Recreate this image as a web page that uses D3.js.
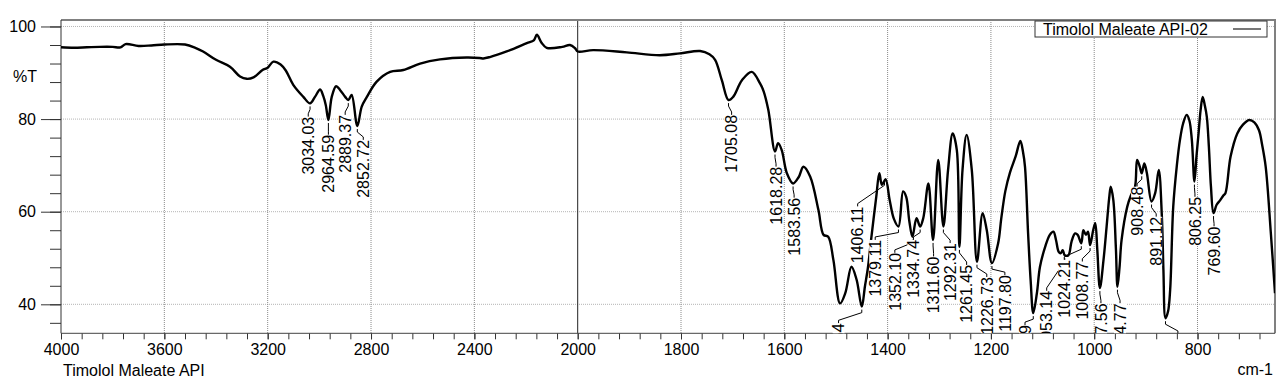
<!DOCTYPE html>
<html>
<head>
<meta charset="utf-8">
<script src="https://cdnjs.cloudflare.com/ajax/libs/d3/7.8.5/d3.min.js"></script>
<style>
  body { margin: 0; background: #fff; }
  text { font-family: "Liberation Sans", Arial, sans-serif; font-size: 16px; fill: #000; }
</style>
</head>
<body>
<div id="chart"></div>
<script>
// spectrum: wavenumber (cm-1) and %T
var wavenumbers = [4000, 3950, 3900, 3850, 3800, 3770, 3750, 3700, 3650, 3600, 3520, 3480, 3450, 3400, 3346, 3307, 3281, 3255, 3220, 3200,
  3178, 3150, 3130, 3101, 3062, 3036, 3017, 2997, 2985, 2975, 2965, 2952, 2935, 2920, 2900, 2888, 2875, 2853, 2836, 2816,
  2778, 2726, 2675, 2610, 2533, 2430, 2380, 2365, 2340, 2275, 2197, 2170, 2158, 2140, 2120, 2060, 2030, 2010, 2000,
  1970, 1905, 1841, 1802, 1763, 1745, 1734, 1721, 1708, 1699, 1682, 1663, 1647, 1640, 1631, 1618, 1612, 1605, 1595, 1583,
  1572, 1563, 1550, 1534, 1524, 1515, 1505, 1492, 1482, 1470, 1460, 1450, 1444, 1438, 1432, 1422, 1416, 1411, 1404, 1396,
  1388, 1379, 1370, 1364, 1358, 1352, 1344, 1337, 1331, 1321, 1312, 1302, 1292, 1283, 1274, 1266, 1261, 1255, 1247, 1237,
  1227, 1216, 1208, 1198, 1186, 1180, 1172, 1163, 1152, 1143, 1138, 1134, 1128, 1123, 1118, 1111, 1105, 1095, 1086, 1079,
  1074, 1069, 1065, 1061, 1057, 1050, 1044, 1037, 1032, 1025, 1021, 1016, 1012, 1008, 1002, 998, 994, 989, 982, 976,
  971, 968, 963, 958, 955, 951, 947, 936, 929, 921, 917, 912, 908, 903, 898, 889, 882, 875, 869, 866,
  862, 857, 853, 847, 840, 834, 828, 821, 816, 811, 806, 802, 798, 794, 790, 786, 782, 778, 774, 769,
  763, 756, 750, 746, 736, 723, 712, 700, 690, 681, 675, 668, 658, 650];
var transmittance = [95.5, 95.4, 95.5, 95.6, 95.6, 95.5, 96.2, 95.8, 95.9, 96.1, 96.1, 95.4, 94.6, 92.8, 91.3, 89.2, 88.7, 89.0, 90.6, 91.1,
  92.4, 91.8, 90.5, 87.4, 84.8, 83.4, 84.8, 86.4, 85.0, 83.0, 79.8, 84.8, 87.1, 86.3, 84.8, 84.1, 85.2, 78.5, 82.7, 84.8,
  88.1, 90.2, 90.6, 92.0, 92.9, 93.3, 93.2, 93.1, 93.4, 94.6, 96.4, 97.0, 98.2, 96.5, 95.4, 95.6, 96.0, 95.3, 94.6,
  94.9, 94.4, 93.8, 94.2, 94.7, 94.0, 92.8, 88.4, 84.1, 84.8, 88.4, 90.2, 87.7, 86.0, 82.0, 73.0, 74.8, 73.3, 68.3, 66.1,
  67.5, 69.7, 67.6, 60.4, 55.0, 54.6, 49.6, 40.2, 42.4, 48.1, 45.3, 39.5, 43.8, 48.0, 53.9, 63.2, 68.3, 65.8, 67.0, 62.5,
  58.5, 56.8, 64.4, 63.2, 58.0, 54.6, 58.6, 56.8, 58.6, 66.1, 53.9, 71.2, 56.8, 69.0, 76.9, 73.3, 52.4, 69.0, 76.6, 69.0,
  49.2, 59.7, 56.0, 48.9, 53.2, 58.5, 64.5, 68.5, 72.0, 75.3, 73.0, 69.7, 55.3, 45.0, 38.1, 42.4, 48.1, 52.4, 55.0, 55.7,
  53.9, 51.4, 51.0, 51.7, 50.6, 50.6, 53.5, 55.3, 55.0, 53.2, 56.0, 55.0, 55.7, 52.8, 56.0, 57.5, 51.7, 43.5, 49.6, 56.8,
  63.0, 65.4, 62.5, 52.0, 43.8, 48.0, 53.9, 61.1, 63.5, 65.4, 71.2, 69.8, 68.3, 70.4, 68.3, 62.2, 64.0, 69.0, 58.9, 47.4,
  37.0, 38.5, 43.1, 61.1, 70.0, 75.5, 79.0, 80.9, 79.8, 75.5, 66.5, 72.0, 76.9, 82.0, 84.8, 83.0, 80.5, 74.0, 65.4, 59.7,
  61.5, 62.5, 63.5, 64.0, 71.9, 76.9, 78.8, 79.8, 79.3, 77.6, 74.5, 69.7, 55.3, 42.4];

// peak annotations: text, peak position, and where the rotated label sits
var peakLabels = ["3034.03", "2964.59", "2889.37", "2852.72", "1705.08", "1618.28", "1583.56", "1449.54", "1406.11", "1379.11",
  "1352.10", "1334.74", "1311.60", "1292.31", "1261.45", "1226.73", "1197.80", "1118.09", "1053.14", "1024.21",
  "1008.77", "987.56", "954.77", "908.48", "891.12", "862.39", "806.25", "769.60"];
var peakWn = [3036, 2965, 2888, 2853, 1708, 1618, 1583, 1450, 1406, 1379,
  1352, 1337, 1312, 1292, 1261, 1227, 1198, 1118, 1057, 1025,
  1008, 989, 955, 908, 889, 862, 806, 769];
var peakT = [83.4, 79.8, 84.1, 78.5, 84.1, 73.0, 66.1, 39.5, 67.0, 56.8,
  54.6, 56.8, 53.9, 56.8, 52.4, 49.2, 48.9, 38.1, 50.6, 53.2,
  52.8, 43.5, 43.8, 68.3, 62.2, 37.0, 66.5, 59.7];
var labelWn = [3043, 2965, 2900, 2830, 1702, 1616, 1581, 1495, 1458, 1424,
  1386, 1350, 1311, 1279, 1247, 1208, 1173, 1134, 1092, 1058,
  1023, 987, 950, 917, 880, 838, 805, 768];
var labelT = [80.5, 76.6, 80.9, 75.5, 80.9, 69.7, 63.0, 35.9, 61.1, 53.9,
  51.1, 53.9, 50.3, 53.2, 48.5, 45.9, 46.3, 35.5, 42.9, 49.6,
  49.2, 40.2, 40.2, 65.4, 58.9, 33.6, 63.2, 56.8];

var xMajor = [4000, 3600, 3200, 2800, 2400, 2000, 1800, 1600, 1400, 1200, 1000, 800];
var yMajor = [40, 60, 80, 100];
var seriesName = "Timolol Maleate API-02";
var sampleName = "Timolol Maleate API";

var svgWidth = 1286;
var svgHeight = 385;
var plot = { left: 61, right: 1275, top: 20, bottom: 333.3 };

var svg = d3.select("#chart")
  .append("svg")
  .attr("width", svgWidth)
  .attr("height", svgHeight);

// the x axis is expanded 2x below 2000 cm-1
var xScale = d3.scaleLinear()
  .domain([4000, 2000, 650])
  .range([plot.left, 577.7, plot.right]);
var yScale = d3.scaleLinear()
  .domain([33.74, 101.4])
  .range([plot.bottom, plot.top]);

svg.append("defs").append("clipPath")
  .attr("id", "plotClip")
  .append("rect")
  .attr("x", plot.left)
  .attr("y", plot.top)
  .attr("width", plot.right - plot.left)
  .attr("height", plot.bottom - plot.top);

// grid
svg.append("g").selectAll("line")
  .data(yMajor)
  .enter()
  .append("line")
  .attr("x1", plot.left)
  .attr("x2", plot.right)
  .attr("y1", d => yScale(d))
  .attr("y2", d => yScale(d))
  .attr("stroke", "#b5b5b5")
  .attr("stroke-dasharray", "1,1");

svg.append("g").selectAll("line")
  .data(xMajor.filter(d => d != 4000 && d != 2000))
  .enter()
  .append("line")
  .attr("x1", d => xScale(d))
  .attr("x2", d => xScale(d))
  .attr("y1", plot.top)
  .attr("y2", plot.bottom)
  .attr("stroke", "#8a8a8a")
  .attr("stroke-dasharray", "1,1");

svg.append("line")
  .attr("x1", xScale(2000))
  .attr("x2", xScale(2000))
  .attr("y1", plot.top)
  .attr("y2", plot.bottom)
  .attr("stroke", "#222")
  .attr("stroke-width", 1);

// top and right frame
svg.append("path")
  .attr("d", `M${plot.left},${plot.top}H${plot.right}V${plot.bottom}`)
  .attr("fill", "none")
  .attr("stroke", "#808080")
  .attr("stroke-width", 2);

// y axis: long major ticks, short minor ticks every 4 %T
var yMinor = d3.range(36, 101, 4);
svg.append("g")
  .attr("transform", `translate(${plot.left},0)`)
  .call(d3.axisLeft(yScale).tickValues(yMinor).tickSize(11).tickFormat(""))
  .call(g => g.select(".domain").remove())
  .call(g => g.selectAll("line").attr("stroke", "#333"));

svg.append("g")
  .attr("transform", `translate(${plot.left},0)`)
  .call(d3.axisLeft(yScale).tickValues(yMajor).tickSize(20).tickPadding(5).tickFormat(d3.format("d")))
  .call(g => g.select(".domain").remove())
  .call(g => g.selectAll("line").attr("stroke", "#333"))
  .call(g => g.selectAll("text").attr("font-size", 16).attr("font-family", "Liberation Sans, Arial, sans-serif").attr("fill", "#000"));

svg.append("line")
  .attr("x1", plot.left)
  .attr("x2", plot.left)
  .attr("y1", plot.top)
  .attr("y2", plot.bottom)
  .attr("stroke", "#333");

// x axis: every 80 above 2000, every 40 below
var xMinor = d3.range(4000, 2000, -80).concat(d3.range(2000, 650, -40));
svg.append("g")
  .attr("transform", `translate(0,${plot.bottom})`)
  .call(d3.axisBottom(xScale).tickValues(xMinor).tickSize(6).tickFormat(""))
  .call(g => g.select(".domain").remove())
  .call(g => g.selectAll("line").attr("stroke", "#333"));

svg.append("g")
  .attr("transform", `translate(0,${plot.bottom})`)
  .call(d3.axisBottom(xScale).tickValues(xMajor).tickSize(6).tickPadding(4).tickFormat(d3.format("d")))
  .call(g => g.select(".domain").remove())
  .call(g => g.selectAll("line").attr("stroke", "#333"))
  .call(g => g.selectAll("text").attr("font-size", 16).attr("font-family", "Liberation Sans, Arial, sans-serif").attr("fill", "#000"));

svg.append("line")
  .attr("x1", plot.left)
  .attr("x2", plot.right)
  .attr("y1", plot.bottom)
  .attr("y2", plot.bottom)
  .attr("stroke", "#444");

// spectrum
var points = wavenumbers.map((w, i) => [w, transmittance[i]]);
var line = d3.line()
  .x(d => xScale(d[0]))
  .y(d => yScale(d[1]))
  .curve(d3.curveCatmullRom.alpha(0.5));

var plotArea = svg.append("g").attr("clip-path", "url(#plotClip)");

plotArea.append("path")
  .datum(points)
  .attr("d", line)
  .attr("fill", "none")
  .attr("stroke", "#000")
  .attr("stroke-width", 2.4)
  .attr("stroke-linejoin", "round");

// peak labels with leaders; the white box hides the curve behind the text
var peaks = peakLabels.map((t, i) => ({
  text: t,
  px: xScale(peakWn[i]),
  py: yScale(peakT[i]),
  lx: xScale(labelWn[i]),
  ly: yScale(labelT[i])
}));

plotArea.append("g").selectAll("path")
  .data(peaks)
  .enter()
  .append("path")
  .attr("d", d => `M${d.px},${d.py + 3}L${d.px},${Math.min(d.py + 6, d.ly - 3)}L${d.lx},${d.ly - 3}L${d.lx},${d.ly}`)
  .attr("fill", "none")
  .attr("stroke", "#000")
  .attr("stroke-width", 1);

var labelGroups = plotArea.append("g").selectAll("g")
  .data(peaks)
  .enter()
  .append("g")
  .attr("transform", d => `translate(${d.lx},${d.ly}) rotate(-90)`);

labelGroups.append("rect")
  .attr("fill", "#fff");

labelGroups.append("text")
  .attr("text-anchor", "end")
  .attr("dy", "0.36em")
  .text(d => d.text);

labelGroups.each(function() {
  var g = d3.select(this);
  var len = g.select("text").node().getComputedTextLength();
  g.select("rect")
    .attr("x", -len)
    .attr("y", -6)
    .attr("width", len)
    .attr("height", 12);
});

// legend
var legend = svg.append("g");
legend.append("rect")
  .attr("x", 1035)
  .attr("y", 21)
  .attr("width", 232)
  .attr("height", 16)
  .attr("fill", "#fff")
  .attr("stroke", "#333");
legend.append("text")
  .attr("x", 1043)
  .attr("y", 34.5)
  .text(seriesName);
legend.append("line")
  .attr("x1", 1233)
  .attr("x2", 1261)
  .attr("y1", 29)
  .attr("y2", 29)
  .attr("stroke", "#777")
  .attr("stroke-width", 2);

// axis titles
svg.append("text")
  .attr("x", 13)
  .attr("y", 81.5)
  .text("%T");

svg.append("text")
  .attr("x", 63)
  .attr("y", 376)
  .text(sampleName);

svg.append("text")
  .attr("x", 1273)
  .attr("y", 375)
  .attr("text-anchor", "end")
  .text("cm-1");
</script>
</body>
</html>
